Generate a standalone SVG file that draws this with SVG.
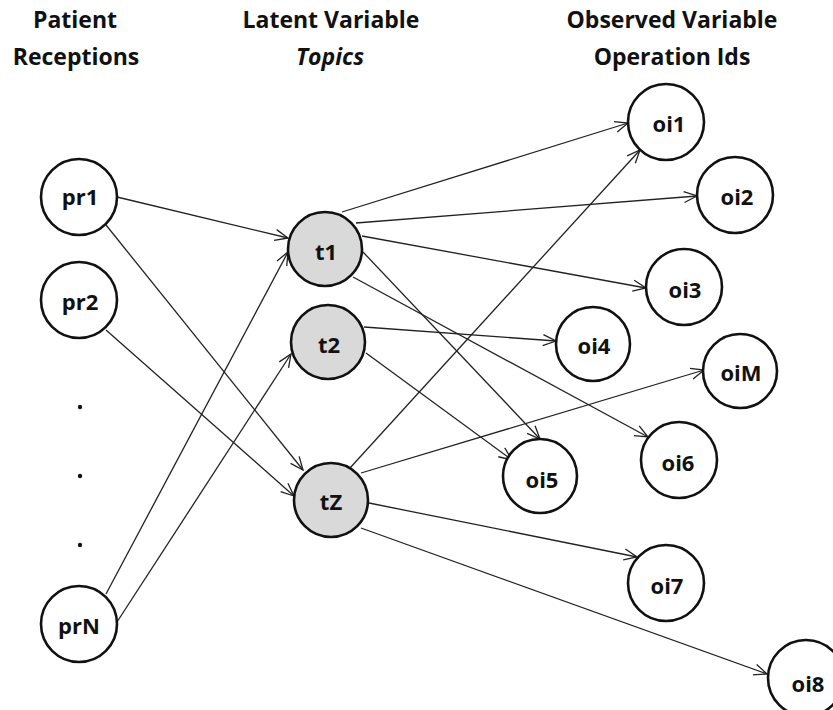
<svg xmlns="http://www.w3.org/2000/svg" width="833" height="710" viewBox="0 0 833 710">
<style>
.hdr{font-family:"Open Sans","Liberation Sans",sans-serif;font-weight:bold;font-size:23px;fill:#111;text-anchor:middle}
.it{font-style:italic}
.lbl{font-family:"Open Sans","Liberation Sans",sans-serif;font-weight:bold;font-size:22px;fill:#111;text-anchor:middle}
.n{fill:#fff;stroke:#111;stroke-width:2.6}
.t{fill:#d9d9d9;stroke:#111;stroke-width:2.6}
.e{stroke:#222;stroke-width:1.3;fill:none;marker-end:url(#arr)}
</style>
<defs>
<marker id="arr" viewBox="-14 -7 16 14" refX="0" refY="0" markerWidth="16" markerHeight="14" markerUnits="userSpaceOnUse" orient="auto">
<path d="M-13,-5.5 L0,0 L-13,5.5" fill="none" stroke="#222" stroke-width="1.3"/>
</marker>
</defs>
<rect width="833" height="710" fill="#fff"/>
<g id="headers">
<text class="hdr" x="75" y="28">Patient</text>
<text class="hdr" x="76" y="65">Receptions</text>
<text class="hdr" x="331" y="28">Latent Variable</text>
<text class="hdr it" x="330" y="65">Topics</text>
<text class="hdr" x="672" y="28">Observed Variable</text>
<text class="hdr" x="672" y="65">Operation Ids</text>
</g>
<g id="connectors">
<line class="e" x1="117" y1="197" x2="288" y2="238"/>
<line class="e" x1="106" y1="225" x2="303" y2="470"/>
<line class="e" x1="106" y1="330" x2="294" y2="496"/>
<line class="e" x1="106" y1="594" x2="288" y2="252"/>
<line class="e" x1="117" y1="622" x2="291" y2="354"/>
<line class="e" x1="342" y1="212" x2="628" y2="123"/>
<line class="e" x1="356" y1="223" x2="697" y2="196"/>
<line class="e" x1="362" y1="236" x2="646" y2="288"/>
<line class="e" x1="363" y1="252" x2="540" y2="439"/>
<line class="e" x1="353" y1="277" x2="648" y2="437"/>
<line class="e" x1="364" y1="327" x2="556" y2="341"/>
<line class="e" x1="366" y1="353" x2="512" y2="460"/>
<line class="e" x1="350" y1="468" x2="640" y2="150"/>
<line class="e" x1="361" y1="473" x2="704" y2="370"/>
<line class="e" x1="369" y1="503" x2="637" y2="557"/>
<line class="e" x1="361" y1="528" x2="767" y2="674"/>
</g>
<g id="pr1"><circle class="n" cx="79" cy="197" r="38"/><text class="lbl" x="80" y="205">pr1</text></g>
<g id="pr2"><circle class="n" cx="79" cy="300" r="38"/><text class="lbl" x="80" y="310">pr2</text></g>
<g id="dots" fill="#111"><circle cx="80" cy="407" r="2.2"/><circle cx="80" cy="476" r="2.2"/><circle cx="80" cy="545" r="2.2"/></g>
<g id="prN"><circle class="n" cx="79" cy="624" r="38"/><text class="lbl" x="79" y="634">prN</text></g>
<g id="t1"><circle class="t" cx="325" cy="249" r="37"/><text class="lbl" x="326" y="260">t1</text></g>
<g id="t2"><circle class="t" cx="328" cy="342" r="37"/><text class="lbl" x="329" y="353">t2</text></g>
<g id="tZ"><circle class="t" cx="331" cy="500" r="37"/><text class="lbl" x="331" y="510">tZ</text></g>
<g id="oi1"><circle class="n" cx="666" cy="122" r="38"/><text class="lbl" x="669" y="132">oi1</text></g>
<g id="oi2"><circle class="n" cx="735" cy="195" r="38"/><text class="lbl" x="737" y="205">oi2</text></g>
<g id="oi3"><circle class="n" cx="684" cy="287" r="38"/><text class="lbl" x="685" y="298">oi3</text></g>
<g id="oi4"><circle class="n" cx="593" cy="344" r="37"/><text class="lbl" x="594" y="354">oi4</text></g>
<g id="oiM"><circle class="n" cx="740" cy="371" r="37"/><text class="lbl" x="741" y="381">oiM</text></g>
<g id="oi5"><circle class="n" cx="540" cy="476" r="37"/><text class="lbl" x="542" y="488">oi5</text></g>
<g id="oi6"><circle class="n" cx="679" cy="460" r="38"/><text class="lbl" x="678" y="471">oi6</text></g>
<g id="oi7"><circle class="n" cx="666" cy="583" r="38"/><text class="lbl" x="667" y="594">oi7</text></g>
<g id="oi8"><circle class="n" cx="806" cy="678" r="38"/><text class="lbl" x="808" y="692">oi8</text></g>
</svg>
